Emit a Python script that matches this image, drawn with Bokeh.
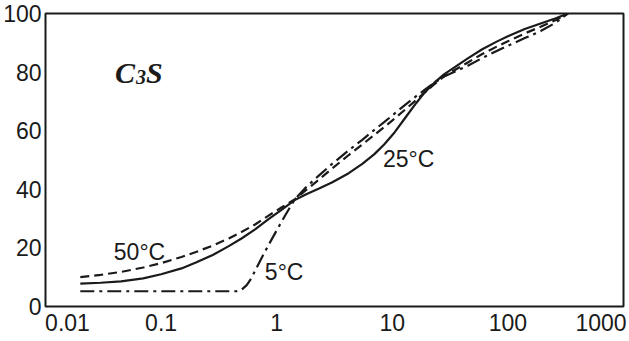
from bokeh.plotting import figure
from bokeh.models import Range1d, FixedTicker, Label
from bokeh.embed import file_html
from bokeh.resources import INLINE

# ---- data ----
# 25 °C (solid)
x_25 = [0.02, 0.03, 0.045, 0.07, 0.1, 0.15, 0.2, 0.28, 0.385, 0.5, 0.65, 0.85, 1.1, 1.43,
        1.8, 2.3, 3.0, 4.2, 5.5, 7.0, 8.5, 10.5, 13.0, 16.0, 19.0, 23.0, 28.0, 35.0, 45.0,
        60.0, 80.0, 100.0, 140.0, 192.0, 260.0, 330.0]
y_25 = [7.8, 8.1, 8.6, 9.6, 11.0, 13.0, 15.0, 17.6, 20.6, 23.3, 26.3, 29.8, 33.0, 36.3,
        38.3, 40.2, 42.3, 45.5, 48.7, 52.0, 55.3, 59.5, 64.5, 69.3, 73.0, 76.3, 79.2, 81.8, 84.7,
        87.8, 90.4, 92.2, 94.7, 96.6, 98.4, 100.0]
# 50 °C (dashed)
x_50 = [0.02, 0.03, 0.045, 0.07, 0.1, 0.15, 0.2, 0.28, 0.385, 0.5, 0.65, 0.85, 1.1, 1.43,
        1.8, 2.3, 3.0, 4.2, 5.5, 7.0, 8.5, 10.5, 13.0, 16.0, 19.0, 23.0, 28.0, 35.0, 45.0,
        60.0, 80.0, 100.0, 140.0, 192.0, 260.0, 330.0]
y_50 = [10.0, 10.8, 11.8, 13.3, 14.8, 16.9, 18.6, 20.8, 23.2, 25.5, 28.0, 31.0, 33.8, 36.5,
        39.8, 43.2, 47.0, 51.7, 55.3, 58.6, 61.2, 64.2, 67.3, 70.4, 73.0, 75.8, 78.5, 80.8, 83.3,
        86.2, 88.7, 90.5, 93.2, 95.5, 97.8, 100.0]
# 5 °C (dash-dot)
x_5 = [0.02, 0.45, 0.5, 0.55, 0.6, 0.67, 0.75, 0.85, 1.0, 1.2, 1.43,
       1.8, 2.3, 3.0, 4.2, 5.5, 7.0, 8.5, 10.5, 13.0, 16.0, 19.0, 23.0, 28.0, 35.0, 45.0,
       60.0, 80.0, 100.0, 140.0, 192.0, 260.0, 330.0]
y_5 = [5.2, 5.2, 5.8, 7.3, 9.5, 13.2, 17.0, 21.0, 26.0, 31.5, 36.5,
       40.8, 44.6, 48.6, 53.3, 56.9, 60.3, 62.9, 65.9, 68.9, 71.7, 73.9, 76.3, 78.5, 80.2, 82.2,
       84.8, 87.2, 89.0, 91.6, 94.0, 96.9, 100.0]

y_ticks = [0, 20, 40, 60, 80, 100]
x_tick_values = [0.01, 0.1, 1, 10, 100, 1000]
x_tick_labels = ["0.01", "0.1", "1", "10", "100", "1000"]

series_labels = ["25°C", "50°C", "5°C"]
title_text = ["C", "3", "S"]

FONT = "Liberation Sans"
INK = "#1a1a1a"

p = figure(width=629, height=341, x_axis_type="log",
           x_range=Range1d(0.01, 1000), y_range=Range1d(0, 100),
           output_backend="svg", toolbar_location=None,
           min_border_left=43, min_border_right=6, min_border_top=13, min_border_bottom=35)
p.background_fill_color = "white"
p.border_fill_color = "white"
p.outline_line_color = INK
p.outline_line_width = 2
p.xgrid.visible = False
p.ygrid.visible = False

# edge labels are drawn inside the frame in the reference
shift = {0.01: 1.55, 1000: 0.64}
x_positions = [v * shift.get(v, 1) for v in x_tick_values]
p.xaxis.ticker = FixedTicker(ticks=x_positions)
p.xaxis.major_label_overrides = {pos: lab for pos, lab in zip(x_positions, x_tick_labels)}
p.yaxis.ticker = FixedTicker(ticks=y_ticks)

for ax in (p.xaxis, p.yaxis):
    ax.axis_line_color = None
    ax.major_tick_line_color = None
    ax.minor_tick_line_color = None
    ax.major_tick_out = 0
    ax.major_tick_in = 0
    ax.major_label_text_font = FONT
    ax.major_label_text_font_size = "23px"
    ax.major_label_text_color = INK
p.xaxis.major_label_standoff = 7
p.yaxis.major_label_standoff = 4

p.line(x_25, y_25, line_color=INK, line_width=2.2)
p.line(x_50, y_50, line_color=INK, line_width=2.2, line_dash="9 5")
p.line(x_5, y_5, line_color=INK, line_width=2.2, line_dash="14 5 3 5")

for txt, x, y in [(series_labels[0], 8.3, 50.3), (series_labels[1], 0.039, 18.7), (series_labels[2], 0.79, 11.9)]:
    p.add_layout(Label(x=x, y=y, text=txt, text_font=FONT, text_font_size="23px",
                       text_color=INK, text_baseline="alphabetic", text_align="left"))

for txt, dx, dy, size in [(title_text[0], 0, 0, "30px"), (title_text[1], 21, -5, "20px"), (title_text[2], 31, 0, "30px")]:
    p.add_layout(Label(x=0.040, y=80, x_offset=dx, y_offset=dy, text=txt,
                       text_font="Liberation Serif", text_font_size=size,
                       text_font_style="bold italic", text_color=INK,
                       text_baseline="alphabetic", text_align="left"))

open("out.html", "w").write(file_html(p, INLINE))
